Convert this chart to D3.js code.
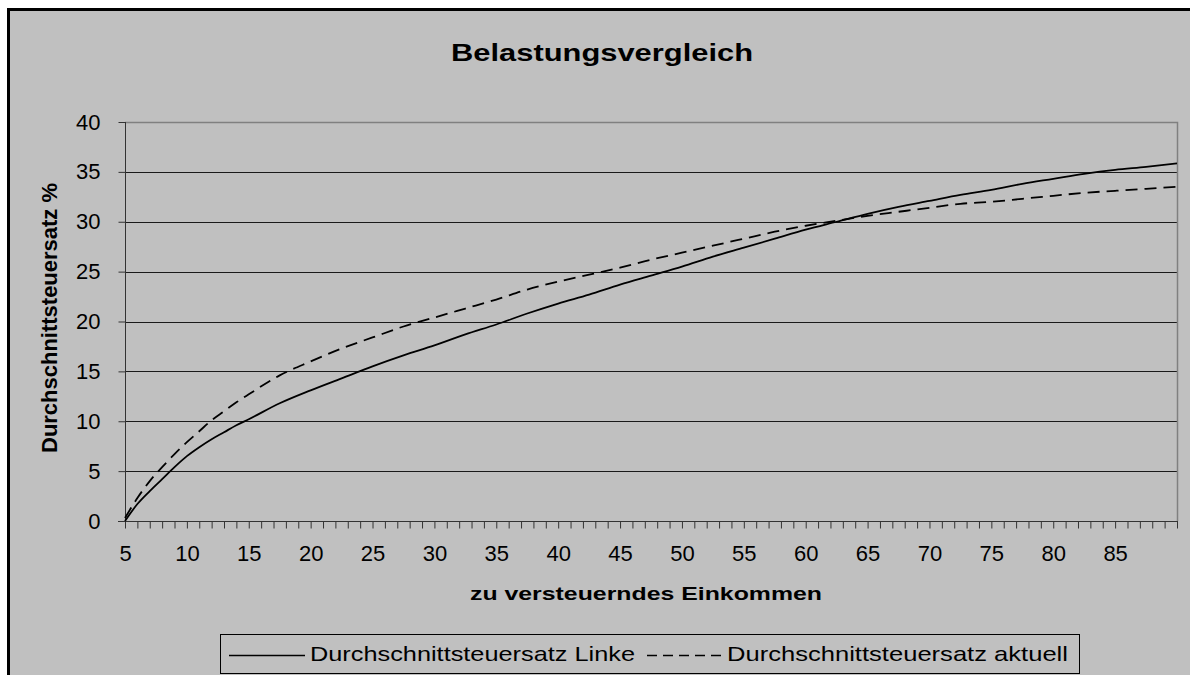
<!DOCTYPE html>
<html>
<head>
<meta charset="utf-8">
<script src="https://cdn.jsdelivr.net/npm/d3@7"></script>
<style>
  body { margin: 0; background: #fff; }
  svg { display: block; font-family: Arial, "Liberation Sans", sans-serif; }
</style>
</head>
<body>
<div id="chart"></div>
<script>
const incomes = [5, 6, 7, 8, 9, 10, 11, 12, 13, 14, 15, 17.5, 20, 22.5, 25, 27.5, 30, 32.5, 35, 37.5, 40,
    42.5, 45, 47.5, 50, 52.5, 55, 57.5, 60, 62.5, 65, 67.5, 70, 72.5, 75, 77.5, 80, 82.5, 85, 87.5, 90];
const rateLinke = [0, 1.7, 3.0, 4.2, 5.4, 6.5, 7.4, 8.2, 8.9, 9.6, 10.2, 11.8, 13.1, 14.3, 15.5, 16.6, 17.6, 18.7, 19.7, 20.8, 21.8,
    22.7, 23.7, 24.6, 25.5, 26.5, 27.4, 28.3, 29.2, 30.0, 30.8, 31.5, 32.1, 32.7, 33.2, 33.8, 34.3, 34.8, 35.2, 35.5, 35.85];
const rateAktuell = [0.3, 2.3, 4.0, 5.4, 6.7, 7.9, 9.0, 10.1, 11.0, 11.9, 12.7, 14.6, 16.0, 17.3, 18.4, 19.5, 20.4, 21.3, 22.2, 23.2, 24.0,
    24.7, 25.4, 26.2, 26.9, 27.6, 28.3, 29.0, 29.6, 30.1, 30.6, 31.0, 31.4, 31.8, 32.0, 32.3, 32.6, 32.9, 33.1, 33.3, 33.5];
const xLabels = [5, 10, 15, 20, 25, 30, 35, 40, 45, 50, 55, 60, 65, 70, 75, 80, 85];
const yTicks = [0, 5, 10, 15, 20, 25, 30, 35, 40];
const seriesNames = ["Durchschnittsteuersatz Linke", "Durchschnittsteuersatz aktuell"];

const W = 1190, H = 675;
const plot = {left: 125, top: 122, right: 1177, bottom: 521};

const svg = d3.select("#chart").append("svg")
    .attr("width", W)
    .attr("height", H);

// chart frame
svg.append("rect")
    .attr("x", 8.5).attr("y", 9.5)
    .attr("width", W + 20).attr("height", H + 20)
    .attr("fill", "#c0c0c0")
    .attr("stroke", "#000")
    .attr("stroke-width", 3);

const x = d3.scaleLinear().domain([5, 90]).range([plot.left, plot.right]);
const y = d3.scaleLinear().domain([0, 40]).range([plot.bottom, plot.top]);

// gridlines
svg.append("g")
    .selectAll("line")
    .data(yTicks.slice(1, -1))
    .join("line")
    .attr("x1", plot.left).attr("x2", plot.right)
    .attr("y1", d => Math.round(y(d)) + 0.5).attr("y2", d => Math.round(y(d)) + 0.5)
    .attr("stroke", "#1a1a1a")
    .attr("stroke-width", 1);

// plot area border (top / right)
svg.append("path")
    .attr("d", `M${plot.left},${plot.top + 0.5} H${plot.right + 0.5} V${plot.bottom}`)
    .attr("fill", "none")
    .attr("stroke", "#808080")
    .attr("stroke-width", 1.5);

// y axis
const axisY = d3.axisLeft(y).tickValues(yTicks).tickSize(7).tickPadding(18);
const gy = svg.append("g")
    .attr("transform", `translate(${plot.left + 0.5},0)`)
    .call(axisY);
gy.select(".domain").attr("stroke", "#333").attr("d", `M0,${plot.top}V${plot.bottom}`);
gy.selectAll(".tick line").attr("stroke", "#333");
gy.selectAll(".tick text")
    .style("font-size", "22px")
    .style("font-family", "Arial, 'Liberation Sans', sans-serif")
    .attr("fill", "#000");

// x axis: minor ticks every unit, labels every 5
const axisX = d3.axisBottom(x)
    .tickValues(d3.range(5, 91))
    .tickSize(7)
    .tickPadding(17)
    .tickFormat(d => xLabels.includes(d) ? d : "");
const gx = svg.append("g")
    .attr("transform", `translate(0,${plot.bottom + 0.5})`)
    .call(axisX);
gx.select(".domain").attr("stroke", "#333").attr("d", `M${plot.left - 7},0H${plot.right + 1}`);
gx.selectAll(".tick line").attr("stroke", "#333");
gx.selectAll(".tick text")
    .style("font-size", "22px")
    .style("font-family", "Arial, 'Liberation Sans', sans-serif")
    .attr("fill", "#000");

// lines
const line = d3.line()
    .x((d, i) => x(incomes[i]))
    .y(d => y(d))
    .curve(d3.curveMonotoneX);

svg.append("path")
    .datum(rateLinke)
    .attr("d", line)
    .attr("fill", "none")
    .attr("stroke", "#000")
    .attr("stroke-width", 1.8);

svg.append("path")
    .datum(rateAktuell)
    .attr("d", line)
    .attr("fill", "none")
    .attr("stroke", "#000")
    .attr("stroke-width", 1.8)
    .attr("stroke-dasharray", "12,7");

// titles
svg.append("text")
    .attr("x", 451).attr("y", 61)
    .attr("textLength", 302)
    .attr("lengthAdjust", "spacingAndGlyphs")
    .style("font-size", "24px")
    .style("font-weight", "bold")
    .text("Belastungsvergleich");

svg.append("text")
    .attr("x", 470).attr("y", 600)
    .attr("textLength", 352)
    .attr("lengthAdjust", "spacingAndGlyphs")
    .style("font-size", "18px")
    .style("font-weight", "bold")
    .text("zu versteuerndes Einkommen");

svg.append("text")
    .attr("transform", `translate(57,453) rotate(-90)`)
    .attr("textLength", 270)
    .attr("lengthAdjust", "spacingAndGlyphs")
    .style("font-size", "22px")
    .style("font-weight", "bold")
    .text("Durchschnittsteuersatz %");

// legend
const leg = svg.append("g");
leg.append("rect")
    .attr("x", 220.5).attr("y", 634.5)
    .attr("width", 859).attr("height", 39)
    .attr("fill", "#c0c0c0")
    .attr("stroke", "#000")
    .attr("stroke-width", 1);

leg.append("line")
    .attr("x1", 229).attr("x2", 305)
    .attr("y1", 655.5).attr("y2", 655.5)
    .attr("stroke", "#000").attr("stroke-width", 1.5);
leg.append("text")
    .attr("x", 310).attr("y", 661)
    .attr("textLength", 325)
    .attr("lengthAdjust", "spacingAndGlyphs")
    .style("font-size", "21px")
    .text(seriesNames[0]);

leg.append("line")
    .attr("x1", 647).attr("x2", 722)
    .attr("y1", 655.5).attr("y2", 655.5)
    .attr("stroke", "#000").attr("stroke-width", 1.5)
    .attr("stroke-dasharray", "10,6");
leg.append("text")
    .attr("x", 727).attr("y", 661)
    .attr("textLength", 341)
    .attr("lengthAdjust", "spacingAndGlyphs")
    .style("font-size", "21px")
    .text(seriesNames[1]);
</script>
</body>
</html>
